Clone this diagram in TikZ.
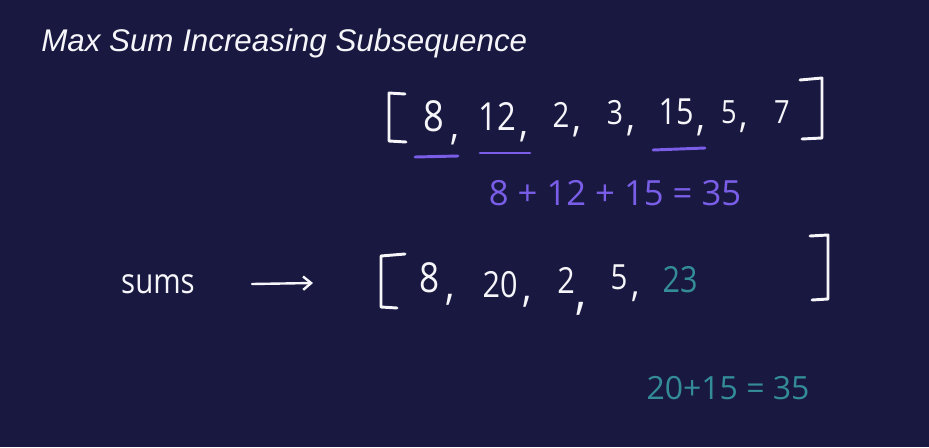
\documentclass[tikz,border=0pt]{standalone}
\usepackage{graphicx}
\usepackage{fontspec}
\setmainfont{Open Sans}
\newfontfamily\hand[FakeStretch=0.85]{Open Sans}
\newfontfamily\handw{Open Sans}
\newfontfamily\titlefont{Liberation Sans}
\usetikzlibrary{arrows.meta}
\definecolor{bg}{RGB}{24,24,64}
\definecolor{ink}{RGB}{246,246,250}
\definecolor{purp}{RGB}{122,94,232}
\definecolor{teal2}{RGB}{52,140,152}
\begin{document}
\begin{tikzpicture}[x=0.75pt,y=-0.75pt,
  txt/.style={inner sep=0pt,outer sep=0pt,text=ink},
  dig/.style={txt,font=\hand\fontsize{#1}{#1}\selectfont},
  com/.style={txt,font=\hand\fontsize{#1}{#1}\selectfont},
  sumtxt/.style={inner sep=0pt,font=\handw\fontsize{#1}{#1}\selectfont},
  brk/.style={draw=ink,line width=2.2pt,line cap=round,line join=round},
  uline/.style={draw=purp,line width=2.2pt,line cap=round},
  arr/.style={draw=ink,line width=1.8pt,line cap=round,-{Straight Barb[length=6pt,width=10pt,line width=1.8pt]}}]
\fill[bg] (0,0) rectangle (929,447);
\useasboundingbox (0,0) rectangle (929,447);
% title
\node[anchor=base west,inner sep=0pt,text=ink,font=\titlefont\itshape\fontsize{23.5}{23.5}\selectfont] (title) at (41,51) {Max Sum Increasing Subsequence};
% top array
\draw[brk] (405,94) -- (389,93) -- (389,141) -- (406,142);
\node[dig=32] (n1) at (434,116) {8};
\node[com=32] (c1) at (455,140) {,};
\node[dig=29] (n2) at (497,116) {12};
\node[com=32] (c2) at (524,137) {,};
\node[dig=26] (n3) at (561,115) {2};
\node[com=32] (c3) at (577,132) {,};
\node[dig=25] (n4) at (615,113) {3};
\node[com=32] (c4) at (631,131) {,};
\node[dig=27] (n5) at (676,112) {15};
\node[com=32] (c5) at (701,131) {,};
\node[dig=24] (n6) at (729,112) {5};
\node[com=30] (c6) at (744,128) {,};
\node[dig=24] (n7) at (782,112) {7};
\draw[brk] (800,80) -- (822,78) -- (822,138) -- (802,139);
% underlines
\draw[uline] (415,157) -- (458,156);
\draw[uline] (480,153) -- (530,153);
\draw[uline] (653,150) -- (705,148);
\node[sumtxt=26,text=purp] (psum) at (615,193) {8 + 12 + 15 = 35};
% second row
\node[dig=26,anchor=center] (sums) at (158,284) {sums};
\coordinate (arrowtail) at (252,284);
\coordinate (arrowtip) at (313,283);
\draw[arr] (arrowtail) -- (arrowtip);
\draw[brk] (405,254) -- (381,256) -- (381,307) -- (397,308);
\node[dig=31] (m1) at (430,278) {8};
\node[com=34] (d1) at (450,300) {,};
\node[dig=27] (m2) at (500,285) {20};
\node[com=34] (d2) at (527,302) {,};
\node[dig=27] (m3) at (566,280) {2};
\node[com=40] (d3) at (581,309) {,};
\node[dig=26] (m4) at (619,277) {5};
\node[com=30] (d4) at (636,297) {,};
\node[dig=27,text=teal2] (m5) at (680,280) {23};
\draw[brk] (810,236) -- (828,235) -- (828,299) -- (812,300);
\node[sumtxt=24,text=teal2] (tsum) at (728,388) {20+15 = 35};
\end{tikzpicture}
\end{document}
